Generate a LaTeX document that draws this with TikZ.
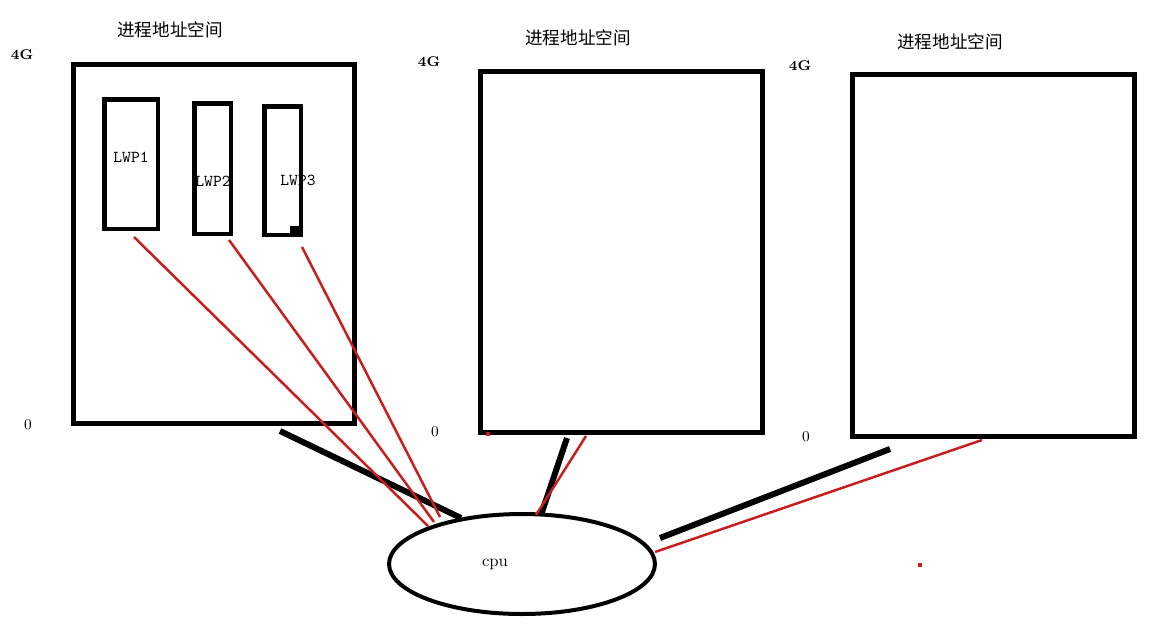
\documentclass[tikz,border=0pt]{standalone}
\usepackage{fontspec}
\newfontfamily\cjk{Noto Sans CJK SC}
\usetikzlibrary{shapes.geometric,calc}
\definecolor{penred}{RGB}{200,30,30}
\tikzset{
  box/.style={draw=black,line width=0.1cm,anchor=north west,inner sep=0pt},
  lwp/.style={draw=black,line width=0.09cm,anchor=north west,inner sep=0pt},
  title/.style={font=\cjk\fontsize{10}{12}\selectfont},
  axis/.style={font=\bfseries\fontsize{8}{10}\selectfont},
  lbl/.style={font=\ttfamily\fontsize{9.5}{11}\selectfont},
  redline/.style={draw=penred,line width=0.05cm},
  blackline/.style={draw=black,line width=0.12cm},
}
\begin{document}
\begin{tikzpicture}[x=0.02cm,y=-0.02cm]
\useasboundingbox (0,0) rectangle (1163,623);
% process boxes
\node[box,minimum width=5.62cm,minimum height=7.18cm] (p1) at (71,62) {};
\node[box,minimum width=5.64cm,minimum height=7.22cm] (p2) at (478,69) {};
\node[box,minimum width=5.64cm,minimum height=7.24cm] (p3) at (850,72) {};
% LWP boxes
\node[lwp,minimum width=1.08cm,minimum height=2.60cm] (l1) at (102,97) {};
\node[lwp,minimum width=0.74cm,minimum height=2.62cm] (l2) at (192,101) {};
\node[lwp,minimum width=0.74cm,minimum height=2.58cm] (l3) at (262,104) {};
\fill (290,226) rectangle (301,236);
% labels
\node[title] (t1) at (170,30) {进程地址空间};
\node[title] (t2) at (578,38) {进程地址空间};
\node[title] (t3) at (950,42) {进程地址空间};
\node[axis] (g1) at (22,55) {4G};
\node[axis] (g2) at (429,62) {4G};
\node[axis] (g3) at (800,66) {4G};
\node[axis,font=\fontsize{8.5}{10}\selectfont] (z1) at (28,425) {0};
\node[axis,font=\fontsize{8.5}{10}\selectfont] (z2) at (435,432) {0};
\node[axis,font=\fontsize{8.5}{10}\selectfont] (z3) at (806,437) {0};
\node[lbl] (n1) at (131,157) {LWP1};
\node[lbl] (n2) at (213,181) {LWP2};
\node[lbl] (n3) at (298,180) {LWP3};
% cpu
\node[draw,ellipse,line width=0.08cm,minimum width=5.32cm,minimum height=2cm,inner sep=0pt] (cpu) at (522,564) {};
\node[font=\fontsize{9.5}{11}\selectfont] (cl) at (495,564) {cpu};
% connector ends
\coordinate (a1) at (134,237);
\coordinate (a2) at (229,240);
\coordinate (a3) at (302,247);
\coordinate (b1) at (280,431);
\coordinate (b2) at (567,438);
\coordinate (r2) at (586,436);
\coordinate (b3) at (890,449);
\coordinate (r3) at (982,440);
\coordinate (c1) at (428,526);
\coordinate (c2) at (434,522);
\coordinate (c3) at (440,517);
\coordinate (cb1) at (461,518);
\coordinate (cb2) at (541,515);
\coordinate (cr2) at (536,515);
\coordinate (cb3) at (660,538);
\coordinate (cr3) at (655,552);
% connectors
\draw[blackline] (b1) -- (cb1);
\draw[blackline] (b2) -- (cb2);
\draw[blackline] (b3) -- (cb3);
\draw[redline] (a1) -- (c1);
\draw[redline] (a2) -- (c2);
\draw[redline] (a3) -- (c3);
\draw[redline] (r2) -- (cr2);
\draw[redline] (r3) -- (cr3);
% stray dots
\fill[penred] (486,432) rectangle (490,436);
\fill[penred] (918,563) rectangle (922,567);
\end{tikzpicture}
\end{document}
